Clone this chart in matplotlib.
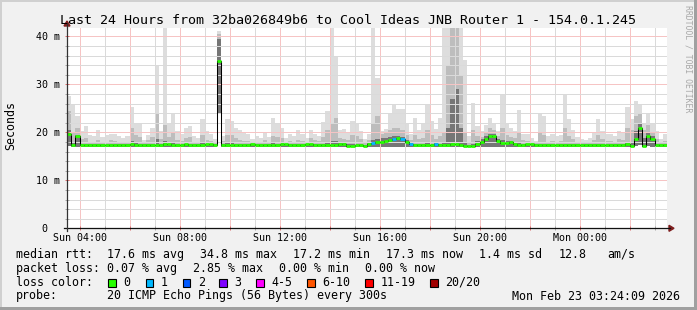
import numpy as np
import matplotlib
matplotlib.use("Agg")
import matplotlib.pyplot as plt
from matplotlib.patches import Rectangle, Polygon
from matplotlib.lines import Line2D

# ---------------- data (10-minute bins, Sun 03:28 -> Mon 03:28) ----------------
start_hour = 3 + 28 / 60.0
step_hours = 10 / 60.0

median_ms = [
    19.6, 17.4, 19.2, 17.3, 17.3, 17.3, 17.3, 17.3, 17.3, 17.3, 17.3, 17.3,
    17.3, 17.3, 17.3, 17.6, 17.3, 17.3, 17.3, 17.3, 17.3, 17.3, 17.3, 17.6,
    17.5, 17.3, 17.3, 17.3, 17.6, 17.3, 17.3, 17.3, 17.3, 17.6, 17.5, 17.3,
    34.8, 17.3, 17.3, 17.3, 17.3, 17.3, 17.3, 17.3, 17.6, 17.3, 17.3, 17.3,
    17.3, 17.3, 17.3, 17.6, 17.6, 17.3, 17.3, 17.3, 17.3, 17.6, 17.5, 17.3,
    17.3, 17.3, 17.3, 17.3, 17.3, 17.6, 17.6, 17.2, 17.2, 17.3, 17.3, 17.2,
    17.6, 17.7, 17.9, 18.0, 18.2, 18.3, 18.6, 18.8, 18.6, 18.0, 17.5, 17.3,
    17.3, 17.3, 17.3, 17.3, 17.5, 17.3, 17.3, 17.4, 17.6, 17.5, 17.3, 17.2,
    17.2, 17.2, 17.6, 17.9, 18.6, 19.2, 19.2, 18.2, 17.8, 17.8, 17.9, 17.6,
    17.4, 17.3, 17.5, 17.5, 17.3, 17.3, 17.3, 17.3, 17.3, 17.3, 17.3, 17.3,
    17.3, 17.3, 17.3, 17.3, 17.3, 17.3, 17.3, 17.3, 17.3, 17.3, 17.3, 17.3,
    17.3, 17.3, 17.6, 17.2, 18.6, 20.8, 17.1, 19.2, 18.6, 17.3, 17.3, 17.3,
]

loss_pings = [
    0, 0, 0, 0, 0, 0, 0, 0, 0, 0, 0, 0,
    0, 0, 0, 0, 0, 0, 0, 0, 0, 0, 0, 0,
    0, 0, 0, 0, 0, 0, 0, 0, 0, 0, 0, 0,
    0, 0, 0, 0, 0, 0, 0, 0, 0, 0, 0, 0,
    0, 0, 0, 0, 0, 0, 0, 0, 0, 0, 0, 0,
    0, 0, 0, 0, 0, 0, 0, 0, 0, 0, 0, 0,
    0, 1, 0, 0, 0, 0, 1, 0, 1, 0, 1, 0,
    0, 0, 0, 0, 1, 0, 0, 0, 0, 0, 0, 0,
    0, 0, 0, 0, 0, 0, 0, 0, 0, 0, 0, 0,
    0, 0, 0, 0, 0, 0, 0, 0, 0, 0, 0, 0,
    0, 0, 0, 0, 0, 0, 0, 0, 0, 0, 0, 0,
    0, 0, 0, 0, 0, 0, 0, 0, 0, 0, 0, 0,
]

# smoke: lowest ping, inner (dark) band top, middle band top, highest ping
smoke_min = [
    17.2, 17.0, 17.0, 17.0, 17.0, 17.0, 17.0, 17.0, 17.0, 17.0, 17.0, 17.0,
    17.0, 17.0, 17.0, 17.0, 17.0, 17.0, 17.0, 17.0, 17.0, 17.0, 17.0, 17.0,
    17.0, 17.0, 17.0, 17.0, 17.0, 17.0, 17.0, 17.0, 17.0, 17.0, 17.0, 17.0,
    24.0, 17.0, 17.0, 17.0, 17.0, 17.0, 17.0, 17.0, 17.0, 17.0, 17.0, 17.0,
    17.0, 17.0, 17.0, 17.0, 17.0, 17.0, 17.0, 17.0, 17.0, 17.0, 17.0, 17.0,
    17.0, 17.0, 17.0, 17.0, 17.0, 17.0, 17.0, 17.0, 17.0, 17.0, 17.0, 17.0,
    17.0, 17.0, 17.0, 17.0, 17.0, 17.0, 17.0, 17.0, 17.0, 17.0, 17.0, 17.0,
    17.0, 17.0, 17.0, 17.0, 17.0, 17.0, 17.0, 17.0, 17.0, 17.0, 17.0, 17.0,
    17.0, 17.0, 17.0, 17.0, 17.0, 17.0, 17.0, 17.0, 17.0, 17.0, 17.0, 17.0,
    17.0, 17.0, 17.0, 17.0, 17.0, 17.0, 17.0, 17.0, 17.0, 17.0, 17.0, 17.0,
    17.0, 17.0, 17.0, 17.0, 17.0, 17.0, 17.0, 17.0, 17.0, 17.0, 17.0, 17.0,
    17.0, 17.0, 17.0, 17.0, 17.2, 17.4, 17.0, 17.2, 17.0, 17.0, 17.0, 17.0,
]

smoke_dark = [
    20.5, 18.0, 19.5, 17.6, 17.6, 17.5, 17.5, 17.6, 17.5, 17.5, 17.6, 17.5,
    17.5, 17.5, 17.5, 18.2, 17.7, 17.6, 17.5, 17.5, 17.6, 18.6, 17.6, 18.2,
    17.6, 17.7, 17.6, 17.5, 17.6, 17.6, 17.5, 17.5, 17.7, 17.6, 17.6, 17.5,
    39.5, 17.5, 17.7, 17.7, 17.6, 17.6, 17.5, 17.5, 17.6, 17.5, 17.5, 17.6,
    17.5, 17.7, 17.6, 17.7, 17.6, 17.6, 17.5, 17.6, 17.5, 17.6, 17.6, 17.6,
    17.5, 17.6, 17.8, 18.2, 18.2, 17.7, 17.7, 17.6, 17.6, 17.6, 17.5, 17.4,
    17.8, 18.3, 18.6, 18.8, 18.9, 19.1, 19.3, 19.3, 19.1, 18.5, 17.7, 17.6,
    17.5, 17.6, 17.7, 17.6, 17.7, 17.6, 17.9, 21.0, 27.0, 29.0, 21.0, 17.9,
    17.4, 17.6, 18.1, 18.7, 19.3, 19.7, 19.7, 18.7, 18.3, 18.1, 18.2, 17.9,
    17.7, 17.5, 17.6, 17.6, 17.5, 17.6, 17.5, 17.5, 17.5, 17.5, 17.5, 17.6,
    17.5, 17.5, 17.5, 17.5, 17.5, 17.5, 17.5, 17.6, 17.5, 17.5, 17.5, 17.5,
    17.5, 17.5, 17.7, 17.9, 20.3, 21.8, 18.8, 20.0, 19.2, 17.6, 17.5, 17.5,
]

smoke_mid = [
    24.5, 20.0, 21.0, 18.6, 18.8, 18.0, 17.9, 18.4, 17.9, 18.0, 18.3, 18.2,
    18.0, 17.9, 18.0, 21.0, 19.5, 19.0, 17.8, 18.3, 19.0, 24.0, 18.6, 21.5,
    19.0, 20.0, 18.5, 18.2, 18.8, 19.0, 18.0, 17.8, 19.5, 18.5, 18.2, 17.8,
    40.5, 18.2, 19.5, 19.5, 18.8, 18.5, 18.2, 18.2, 17.9, 18.0, 17.9, 18.3,
    18.0, 19.2, 19.0, 18.8, 18.0, 18.2, 18.0, 18.5, 18.2, 18.0, 18.8, 18.4,
    18.2, 19.0, 20.5, 22.0, 23.0, 18.8, 18.6, 18.4, 19.5, 19.2, 18.6, 17.9,
    18.4, 22.0, 23.5, 19.6, 19.8, 20.5, 21.0, 20.8, 20.5, 19.5, 18.4, 19.5,
    18.6, 18.9, 20.5, 19.5, 18.6, 19.2, 20.0, 34.0, 44.0, 44.0, 32.0, 20.0,
    18.0, 20.5, 19.2, 19.0, 20.0, 20.8, 20.5, 19.2, 21.0, 19.5, 19.0, 18.8,
    20.0, 18.3, 18.2, 17.9, 17.8, 19.8, 19.5, 18.0, 18.2, 18.0, 18.2, 21.0,
    19.2, 18.6, 17.9, 17.8, 17.8, 18.0, 18.4, 19.5, 18.6, 18.2, 18.2, 18.0,
    18.6, 18.4, 21.0, 20.5, 23.5, 24.0, 20.5, 21.5, 20.0, 18.6, 17.9, 18.2,
]

smoke_max = [
    27.5, 26.0, 23.4, 20.3, 21.3, 19.5, 19.3, 20.4, 19.0, 19.5, 19.6, 19.6,
    19.2, 18.9, 19.2, 25.3, 22.0, 21.7, 18.5, 19.5, 21.0, 33.9, 20.2, 44.0,
    22.0, 24.1, 20.3, 19.6, 21.0, 21.3, 19.2, 18.8, 22.7, 20.3, 19.6, 18.6,
    41.2, 19.3, 22.7, 22.4, 21.0, 20.4, 20.0, 19.6, 18.6, 19.2, 18.9, 20.0,
    19.0, 22.9, 21.7, 20.8, 18.9, 19.6, 19.2, 20.4, 19.6, 18.9, 20.4, 19.6,
    19.2, 22.2, 24.5, 44.0, 36.0, 20.4, 20.6, 20.0, 22.4, 22.0, 20.3, 18.7,
    19.6, 44.0, 31.4, 20.3, 20.6, 24.1, 25.9, 24.8, 24.8, 21.7, 19.6, 23.0,
    20.4, 21.7, 26.0, 22.3, 20.6, 22.9, 44.0, 44.0, 44.0, 44.0, 44.0, 35.0,
    19.2, 26.1, 21.3, 20.3, 21.5, 23.0, 22.0, 20.3, 27.8, 22.0, 20.8, 20.3,
    24.6, 19.6, 19.6, 18.9, 18.2, 24.1, 23.4, 19.2, 19.6, 19.2, 19.5, 27.8,
    22.7, 20.5, 19.0, 18.6, 18.4, 18.9, 20.0, 22.7, 20.3, 19.6, 19.6, 19.2,
    20.3, 20.0, 25.2, 22.7, 26.5, 25.9, 22.0, 23.8, 21.7, 20.3, 18.6, 19.6,
]

x_major_hours = [4, 6, 8, 10, 12, 14, 16, 18, 20, 22, 24, 26]
x_major_labels = ["Sun 04:00", "", "Sun 08:00", "", "Sun 12:00", "",
                  "Sun 16:00", "", "Sun 20:00", "", "Mon 00:00", ""]
x_minor_hours = [5, 7, 9, 11, 13, 15, 17, 19, 21, 23, 25, 27]
y_major_values = [0, 10, 20, 30, 40]
y_major_labels = ["0  ", "10 m", "20 m", "30 m", "40 m"]
y_minor_values = [2, 4, 6, 8, 12, 14, 16, 18, 22, 24, 26, 28, 32, 34, 36, 38]
y_top = 41.8

title = "Last 24 Hours from 32ba026849b6 to Cool Ideas JNB Router 1 - 154.0.1.245"
y_label = "Seconds"
rtt_items = ["17.6 ms avg", "34.8 ms max", "17.2 ms min", "17.3 ms now",
             "1.4 ms sd", "12.8", "am/s"]
loss_items = ["0.07 % avg", "2.85 % max", "0.00 % min", "0.00 % now"]
loss_thresholds = [0, 1, 2, 3, 5, 10, 19, 20]
loss_names = ["0", "1", "2", "3", "4-5", "6-10", "11-19", "20/20"]
loss_colors = ["#26ff00", "#00b8ff", "#0059ff", "#7e00ff",
               "#ff00ff", "#ff5500", "#ff0000", "#a10000"]
probe_text = "20 ICMP Echo Pings (56 Bytes) every 300s"
stamp_text = "Mon Feb 23 03:24:09 2026"
watermark = "RRDTOOL / TOBI OETIKER"

# ---------------- layout ----------------
W, H = 697, 310
PL, PR, PT, PB = 67.0, 667.0, 27.7, 228.3
BG = "#f1f1f1"
MONO = "DejaVu Sans Mono"


def fx(px):
    return px / W


def fy(py):
    return 1 - py / H


fig = plt.figure(figsize=(W / 100, H / 100), dpi=100, facecolor=BG)
ax = fig.add_axes([fx(PL), fy(PB), (PR - PL) / W, (PB - PT) / H])
ax.set_facecolor("white")

n = len(median_ms)
edges = start_hour + step_hours * np.arange(n + 1)

# smoke
ax.stairs(smoke_max, edges, baseline=smoke_min, fill=True, color="#dddddd", lw=0, zorder=1)
ax.stairs(smoke_mid, edges, baseline=smoke_min, fill=True, color="#bdbdbd", lw=0, zorder=1.1)
ax.stairs(smoke_dark, edges, baseline=smoke_min, fill=True, color="#767676", lw=0, zorder=1.2)

# median: black connectors + loss-coloured segments
ax.stairs(median_ms, edges, baseline=None, color="black", lw=0.75, zorder=4)


def loss_index(v):
    for i, t in enumerate(loss_thresholds):
        if v <= t:
            return i
    return len(loss_thresholds) - 1


seg_colors = [loss_colors[loss_index(v)] for v in loss_pings]
ax.hlines(median_ms, edges[:-1], edges[1:], colors=seg_colors, lw=2.0, zorder=5)

ax.set_xlim(edges[0], edges[0] + 24)
ax.set_ylim(0, y_top)

# ticks & grid (dotted grid rendered as its average tone)
ax.set_xticks(x_major_hours)
ax.set_xticklabels(x_major_labels)
ax.set_xticks(x_minor_hours, minor=True)
ax.set_yticks(y_major_values)
ax.set_yticklabels(y_major_labels)
ax.set_yticks(y_minor_values, minor=True)
ax.set_axisbelow(False)
ax.grid(which="major", color="#f6c4c4", lw=0.72, ls="-")
ax.grid(which="minor", color="#dadada", lw=0.72, ls="-")
ax.tick_params(which="major", direction="inout", length=2.9, width=0.72, color="#e07070",
               labelsize=7.2, labelcolor="black")
ax.tick_params(which="minor", direction="inout", length=2.9, width=0.72, color="#a8a8a8")
ax.tick_params(axis="x", which="major", pad=2.2)
ax.tick_params(axis="y", which="major", pad=3.6)
for lab in ax.get_xticklabels() + ax.get_yticklabels():
    lab.set_family(MONO)
for s in ax.spines.values():
    s.set_visible(False)

# axis lines with arrows
fig.add_artist(Line2D([fx(64), fx(670)], [fy(PB), fy(PB)], color="#111111", lw=0.9))
fig.add_artist(Line2D([fx(PL), fx(PL)], [fy(231), fy(24)], color="#333333", lw=0.9))
fig.add_artist(Polygon([[fx(669), fy(PB - 3)], [fx(674), fy(PB)], [fx(669), fy(PB + 3)]],
                       closed=True, color="#7f1f1f", transform=fig.transFigure))
fig.add_artist(Polygon([[fx(PL - 3), fy(26)], [fx(PL), fy(21)], [fx(PL + 3), fy(26)]],
                       closed=True, color="#7f1f1f", transform=fig.transFigure))

# frame
fig.add_artist(Rectangle((0, fy(2)), 1, 2 / H, color="#d0d0d0", transform=fig.transFigure, lw=0))
fig.add_artist(Rectangle((0, 0), 2 / W, 1, color="#d0d0d0", transform=fig.transFigure, lw=0))
fig.add_artist(Rectangle((0, 0), 1, 3 / H, color="#a0a0a0", transform=fig.transFigure, lw=0))
fig.add_artist(Rectangle((fx(W - 3), 0), 3 / W, 1, color="#a0a0a0", transform=fig.transFigure, lw=0))

# texts
fig.text(fx(347.5), fy(24), title, ha="center", va="baseline", fontsize=9.6, family=MONO)
fig.text(fx(10.5), fy(125.5), y_label, ha="center", va="center", rotation=90,
         fontsize=8.4, family=MONO)
fig.text(fx(688), fy(59), watermark, ha="center", va="center", rotation=270,
         fontsize=5.9, family=MONO, color="#a8a8a8")

LF = 8.4
rows = [257.7, 271.7, 285.7, 299.5]
fig.text(fx(16), fy(rows[0]), "median rtt:", fontsize=LF, family=MONO, va="baseline")
for txt, xp in zip(rtt_items, [107.3, 200, 293.3, 386.3, 479.3, 558.7, 607]):
    fig.text(fx(xp), fy(rows[0]), txt, fontsize=LF, family=MONO, va="baseline")
fig.text(fx(16), fy(rows[1]), "packet loss:", fontsize=LF, family=MONO, va="baseline")
for txt, xp in zip(loss_items, [107.3, 192.7, 279.3, 365.3]):
    fig.text(fx(xp), fy(rows[1]), txt, fontsize=LF, family=MONO, va="baseline")
fig.text(fx(16), fy(rows[2]), "loss color:", fontsize=LF, family=MONO, va="baseline")
sq_x = [108.3, 145.7, 182.7, 219.3, 256, 307, 365.3, 430.3]
for name, col, xp in zip(loss_names, loss_colors, sq_x):
    fig.add_artist(Rectangle((fx(xp), fy(286.5)), 7.5 / W, 8 / H, facecolor=col,
                             edgecolor="black", lw=0.8, transform=fig.transFigure))
    fig.text(fx(xp + 15), fy(rows[2]), name, fontsize=LF, family=MONO, va="baseline")
fig.text(fx(16), fy(rows[3]), "probe:", fontsize=LF, family=MONO, va="baseline")
fig.text(fx(107.3), fy(rows[3]), probe_text, fontsize=LF, family=MONO, va="baseline")
fig.text(fx(680.5), fy(rows[3]), stamp_text, fontsize=LF, family=MONO, va="baseline", ha="right")

fig.savefig("out.png", dpi=100, facecolor=BG)
